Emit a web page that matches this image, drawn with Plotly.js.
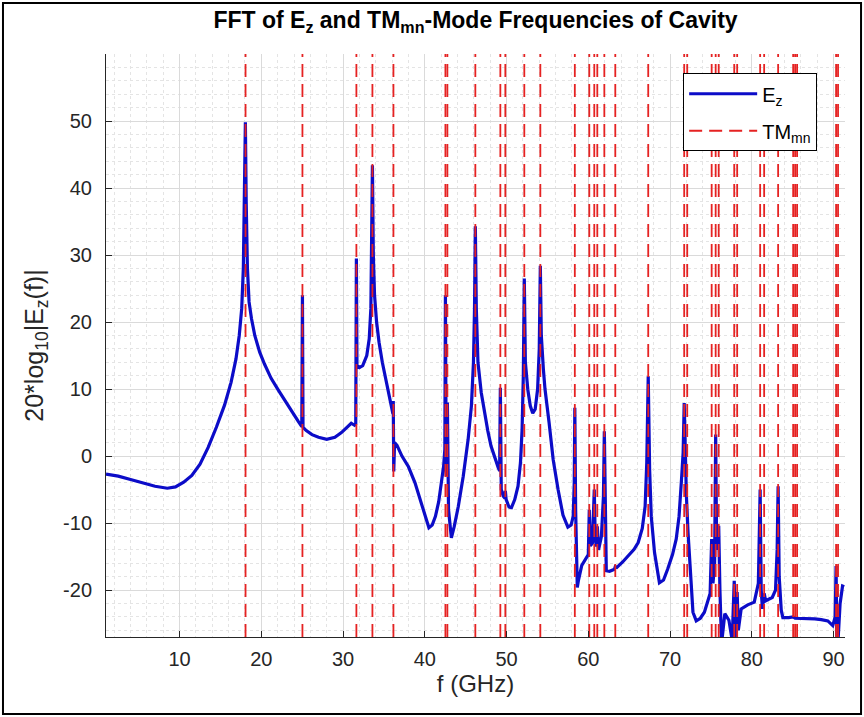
<!DOCTYPE html>
<html>
<head>
<meta charset="utf-8">
<script src="https://cdn.plot.ly/plotly-3.0.1.min.js"></script>
<style>
html,body{margin:0;padding:0;background:#fff;}
#chart{width:864px;height:717px;}
</style>
</head>
<body>
<div id="chart"></div>
<script>
// Frequency samples (GHz)
const freqGHz = [
 1.0,2.5,4.0,5.5,7.0,8.5,9.5,10.5,11.5,12.5,13.5,14.5,15.5,16.3,16.9,17.3,17.6,17.8,17.95,18.05,18.15,18.3,18.5,18.8,19.2,19.8,20.4,21.2,22.1,23.0,23.8,24.5,24.95,25.03,25.1,25.5,26.2,27.0,28.0,29.0,29.8,30.5,31.0,31.4,31.55,31.63,31.7,32.0,32.4,32.9,33.2,33.4,33.5,33.59,33.7,33.85,34.1,34.4,34.8,35.2,35.6,36.0,36.1,36.14,36.2,36.3,36.6,37.2,38.0,38.8,39.5,40.1,40.5,40.9,41.3,41.7,42.0,42.3,42.45,42.52,42.62,42.76,42.9,43.25,43.6,44.1,44.7,45.3,45.7,45.95,46.08,46.18,46.3,46.5,46.9,47.3,47.7,48.1,48.6,49.0,49.15,49.24,49.35,49.6,49.8,49.85,49.95,50.3,50.6,51.0,51.4,51.7,51.9,52.05,52.17,52.3,52.6,52.9,53.2,53.5,53.8,54.0,54.13,54.25,54.5,54.7,55.2,55.7,56.3,56.9,57.5,57.9,58.15,58.28,58.35,58.45,58.65,58.8,59.2,59.7,60.0,60.12,60.25,60.5,60.73,60.85,61.0,61.1,61.25,61.6,61.85,61.96,62.05,62.2,62.6,63.2,63.3,63.5,64.2,64.9,65.6,66.1,66.6,66.95,67.15,67.33,67.5,67.7,68.1,68.7,69.2,69.7,70.3,70.75,71.1,71.4,71.6,71.73,71.85,72.0,72.2,72.5,72.8,73.2,73.7,74.2,74.6,74.9,75.09,75.25,75.45,75.58,75.7,75.95,76.1,76.3,76.7,77.2,77.6,77.85,78.0,78.21,78.35,78.7,79.5,80.3,80.8,81.02,81.15,81.3,81.51,81.7,82.0,82.5,82.9,83.1,83.22,83.35,83.6,83.8,84.5,85.06,85.3,86.5,87.7,88.5,89.3,89.9,90.2,90.31,90.4,90.55,90.8,91.1,91.3
];
// 20*log10|Ez(f)| values
const ezDb = [
 -2.7,-3.0,-3.5,-4.0,-4.5,-4.8,-4.6,-3.9,-2.9,-1.2,1.3,4.3,7.6,11.0,14.5,18.0,22.0,28.0,38.0,49.8,38.0,28.0,23.0,20.5,18.0,15.5,13.7,11.6,9.8,8.0,6.4,5.2,4.4,24.0,4.3,3.8,3.2,2.8,2.5,2.8,3.5,4.4,4.9,4.6,4.8,29.5,13.5,13.2,13.5,15.0,17.5,22.0,30.0,43.4,30.0,24.0,20.0,17.0,14.0,11.5,9.0,7.0,6.3,8.2,-2.3,2.0,1.6,0.0,-1.6,-4.0,-6.8,-9.3,-10.7,-10.3,-9.0,-6.8,-4.5,-1.5,1.0,24.0,-3.0,8.0,-8.0,-12.2,-10.5,-7.5,-3.0,2.5,7.5,14.0,22.0,34.3,22.0,14.0,9.5,6.4,3.8,1.5,-0.5,-1.8,-2.2,10.2,-5.0,-6.0,-6.3,-5.2,-6.5,-7.6,-7.7,-6.5,-4.5,-1.0,4.0,12.0,26.5,14.0,9.9,7.5,6.4,7.0,10.0,16.0,28.4,18.0,13.0,10.0,5.0,-0.5,-5.0,-8.8,-10.6,-10.3,-9.0,-4.0,7.2,-8.0,-19.6,-18.5,-16.3,-15.2,-14.7,-8.0,-13.4,-13.0,-5.0,-12.5,-13.5,-10.5,-14.0,-12.0,-6.0,3.7,-8.0,-17.1,-17.2,-16.9,-16.5,-16.6,-15.8,-14.9,-13.9,-12.9,-10.8,-7.5,-1.0,11.9,-2.0,-9.0,-14.4,-18.9,-18.5,-16.9,-14.7,-12.4,-9.0,-3.5,0.5,7.9,-1.0,-6.0,-11.4,-17.0,-23.3,-24.6,-24.2,-23.3,-21.8,-20.5,-12.4,-19.0,-16.0,3.2,-14.0,-10.4,-20.0,-28.0,-23.5,-24.5,-27.5,-18.6,-27.5,-20.3,-26.0,-22.8,-22.2,-21.8,-19.0,-5.0,-20.0,-22.8,-20.5,-21.6,-21.4,-21.1,-20.0,-14.0,-4.5,-18.0,-23.0,-24.1,-24.1,-24.0,-24.2,-24.2,-24.3,-24.4,-24.6,-25.3,-24.0,-16.4,-28.0,-27.5,-22.0,-19.4,-19.5
];
// TM_mn mode frequencies (GHz)
const tmModes = [
 18.07,25.03,31.63,33.59,36.16,42.52,42.76,46.18,49.24,49.85,52.17,54.13,58.35,60.12,60.73,61.10,61.96,63.30,67.33,71.73,72.10,75.09,75.58,75.95,77.85,78.21,81.02,81.51,83.22,85.06,85.30,85.54,90.31,90.55
];
const xTicks = [10,20,30,40,50,60,70,80,90];
const yTicks = [-20,-10,0,10,20,30,40,50];

const xRange = [1, 91.4];
const yRange = [-27, 60];

const tmX = [], tmY = [];
tmModes.forEach(f => { tmX.push(f, f, null); tmY.push(yRange[0], yRange[1], null); });

const font = "Liberation Sans, Arial, Helvetica, sans-serif";
const txt = "#262626";

const traces = [
 {x: freqGHz, y: ezDb, type: 'scatter', mode: 'lines', name: 'E<sub>z</sub>',
  line: {color: '#0c0cc8', width: 3.2}, legendgroup: 'a', cliponaxis: true},
 {x: tmX, y: tmY, type: 'scatter', mode: 'lines', name: 'TM<sub>mn</sub>',
  line: {color: '#e52222', width: 1.8, dash: '13px,7px'}, legendgroup: 'b', connectgaps: false}
];

const layout = {
 width: 864, height: 717,
 margin: {l: 106, r: 19, t: 54, b: 80},
 paper_bgcolor: '#fff', plot_bgcolor: '#fff',
 font: {family: font, color: txt, size: 20},
 title: {text: 'FFT of E<sub>z</sub> and TM<sub>mn</sub>-Mode Frequencies of Cavity',
   font: {family: font, size: 23, color: '#000', weight: 'bold'},
   x: 0.5, xref: 'paper', xanchor: 'center', y: 0.972, yref: 'container', yanchor: 'middle'},
 xaxis: {range: xRange, tickvals: xTicks, ticktext: xTicks.map(String),
   ticks: 'inside', ticklen: 6, tickcolor: txt, showline: true, linecolor: txt, linewidth: 1, mirror: false,
   showgrid: true, gridcolor: '#dadada', gridwidth: 1, zeroline: false,
   minor: {dtick: 2, tick0: 0, showgrid: true, gridcolor: '#e4e4e4', griddash: 'dot', ticks: ''},
   tickfont: {size: 20, color: txt}, ticklabelstandoff: 4,
   title: {text: 'f (GHz)', font: {size: 24, color: txt}, standoff: 6}},
 yaxis: {range: yRange, tickvals: yTicks, ticktext: yTicks.map(String),
   ticks: 'inside', ticklen: 6, tickcolor: txt, showline: true, linecolor: txt, linewidth: 1, mirror: false,
   showgrid: true, gridcolor: '#dadada', gridwidth: 1, zeroline: false,
   minor: {dtick: 2, tick0: 0, showgrid: true, gridcolor: '#e4e4e4', griddash: 'dot', ticks: ''},
   tickfont: {size: 20, color: txt}, ticklabelstandoff: 9,
   title: {text: '20*log<sub>10</sub>|E<sub>z</sub>(f)|', font: {size: 25, color: txt}, standoff: 12}},
 showlegend: true,
 legend: {x: 0.781, y: 0.967, xanchor: 'left', yanchor: 'top', bgcolor: '#fff',
   bordercolor: '#000', borderwidth: 1, font: {size: 20, color: '#000'},
   itemwidth: 68, traceorder: 'grouped', tracegroupgap: 8},
 shapes: [
  {type: 'rect', xref: 'paper', yref: 'paper', x0: -0.1394, x1: 1.0217, y0: -0.132, y1: 1.0875,
   line: {color: '#000', width: 2}, fillcolor: 'rgba(0,0,0,0)', layer: 'above'}
 ]
};

Plotly.newPlot('chart', traces, layout, {displayModeBar: false, staticPlot: true});
</script>
</body>
</html>
